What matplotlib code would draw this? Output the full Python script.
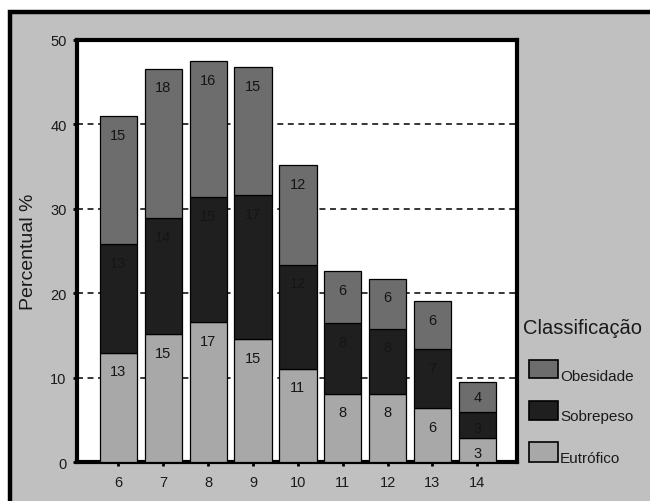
import matplotlib
matplotlib.use("Agg")
import matplotlib.pyplot as plt
from matplotlib.patches import Rectangle
import numpy as np

plt.rcParams['font.family'] = ['Liberation Sans', 'DejaVu Sans']

# Age groups (years) and percentage of each nutritional class
idades = ['6', '7', '8', '9', '10', '11', '12', '13', '14']
eutrofico = [13.0, 15.2, 16.6, 14.6, 11.1, 8.1, 8.1, 6.4, 2.9]
sobrepeso = [12.8, 13.7, 14.8, 17.0, 12.3, 8.4, 7.7, 7.0, 3.0]
obesidade = [15.2, 17.7, 16.1, 15.2, 11.8, 6.1, 5.95, 5.7, 3.6]

series = ['Eutrófico', 'Sobrepeso', 'Obesidade']
cores = {'Eutrófico': '#a8a8a8', 'Sobrepeso': '#1f1f1f', 'Obesidade': '#6d6d6d'}
valores = {'Eutrófico': eutrofico, 'Sobrepeso': sobrepeso, 'Obesidade': obesidade}

W, H = 650, 502
fig = plt.figure(figsize=(W / 100, H / 100), dpi=100)
fig.patch.set_facecolor('white')


def fx(px):
    return px / W


def fy(py):
    return 1 - py / H


# grey panel with thick black frame (runs past the right and bottom edges)
fig.patches.append(Rectangle((fx(10), fy(520)), fx(680), fy(13) - fy(520),
                             transform=fig.transFigure, facecolor='#c0c0c0',
                             edgecolor='black', linewidth=3.2, zorder=-5))

ax = fig.add_axes([fx(77), fy(463.3), fx(517) - fx(77), fy(41) - fy(463.3)])
ax.set_facecolor('white')
ax.set_zorder(1)

x = np.arange(len(idades))
largura = 0.83
base = np.zeros(len(idades))
for nome in series:
    v = np.array(valores[nome])
    ax.bar(x, v, largura, bottom=base, color=cores[nome], edgecolor='black',
           linewidth=0.9, zorder=3)
    topo = base + v
    for xi, t, val in zip(x, topo, v):
        off = 1.8 if val < 4 else 2.2
        ax.text(xi, t - off, f'{val:.0f}', ha='center', va='center',
                fontsize=10.5, color='#151515', zorder=4)
    base = topo

# dashed reference lines behind the bars
for yv in [10, 20, 30, 40]:
    ax.axhline(yv, color='black', linewidth=1.1, linestyle=(0, (3.9, 3.0)),
               zorder=1)

ax.set_xlim(-0.925, 8.885)
ax.set_ylim(0, 50)
ax.set_xticks(x)
ax.set_xticklabels(idades)
ax.set_yticks([0, 10, 20, 30, 40, 50])
ax.tick_params(axis='both', direction='out', length=3, width=2,
               labelsize=10.5, colors='black', labelcolor='#1a1a1a')
ax.tick_params(axis='x', pad=6.5)
ax.tick_params(axis='y', pad=4.5)
for s in ax.spines.values():
    s.set_linewidth(3)
    s.set_color('black')

ax.set_ylabel('Percentual %', fontsize=14, color='#1a1a1a')
ax.yaxis.set_label_coords((37 - 77) / 440, 0.5)

# legend drawn on the grey panel
fig.text(fx(523), fy(334), 'Classificação', fontsize=14.5, color='#1a1a1a',
         ha='left', va='baseline')
legenda = [('Obesidade', 361, 379, 381),
           ('Sobrepeso', 402, 421, 421.5),
           ('Eutrófico', 443, 463, 463)]
for nome, y0, y1, yb in legenda:
    fig.patches.append(Rectangle((fx(529), fy(y1)), fx(29), fy(y0) - fy(y1),
                                 transform=fig.transFigure,
                                 facecolor=cores[nome], edgecolor='black',
                                 linewidth=1.2, zorder=2))
    fig.text(fx(560), fy(yb), nome, fontsize=11, color='#1a1a1a',
             ha='left', va='baseline')

fig.savefig('out.png', dpi=100, facecolor=fig.get_facecolor())
